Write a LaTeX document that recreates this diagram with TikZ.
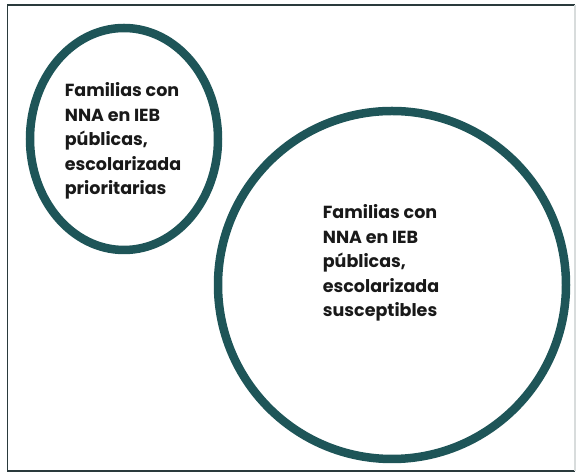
\documentclass[tikz,border=0pt]{standalone}
\usepackage{fontspec}
\setmainfont{Poppins}
\definecolor{ringteal}{HTML}{1E5558}
\definecolor{framedark}{HTML}{2A3A3C}
\definecolor{framelight}{HTML}{D8DCDC}
\tikzset{
  ring/.style={draw=ringteal, line width=8.5pt},
  frameline/.style={draw=framedark, line width=1.4pt},
  label/.style={align=left, inner sep=0pt, font=\fontsize{17.5}{24.5}\selectfont\bfseries, text=black!90}
}
\begin{document}
\begin{tikzpicture}[x=1pt,y=1pt]
\useasboundingbox (0,0) rectangle (579,473);
\coordinate (bl) at (7.5,2);
\coordinate (br) at (575,2);
\coordinate (tr) at (575,468);
\coordinate (tl) at (7.5,468);
\draw[frameline] (tr) -- (tl) -- (bl) -- (br);
\draw[draw=framelight, line width=1.2pt] (br) -- (tr);
\draw[ring] (124,334) ellipse [x radius=94, y radius=111];
\draw[ring] (392,188) circle [radius=174];
\node[label] (small) at (123,332) {Familias con\\NNA en IEB\\públicas,\\escolarizada\\prioritarias};
\node[label] (large) at (381,210) {Familias con\\NNA en IEB\\públicas,\\escolarizada\\susceptibles};
\end{tikzpicture}
\end{document}
